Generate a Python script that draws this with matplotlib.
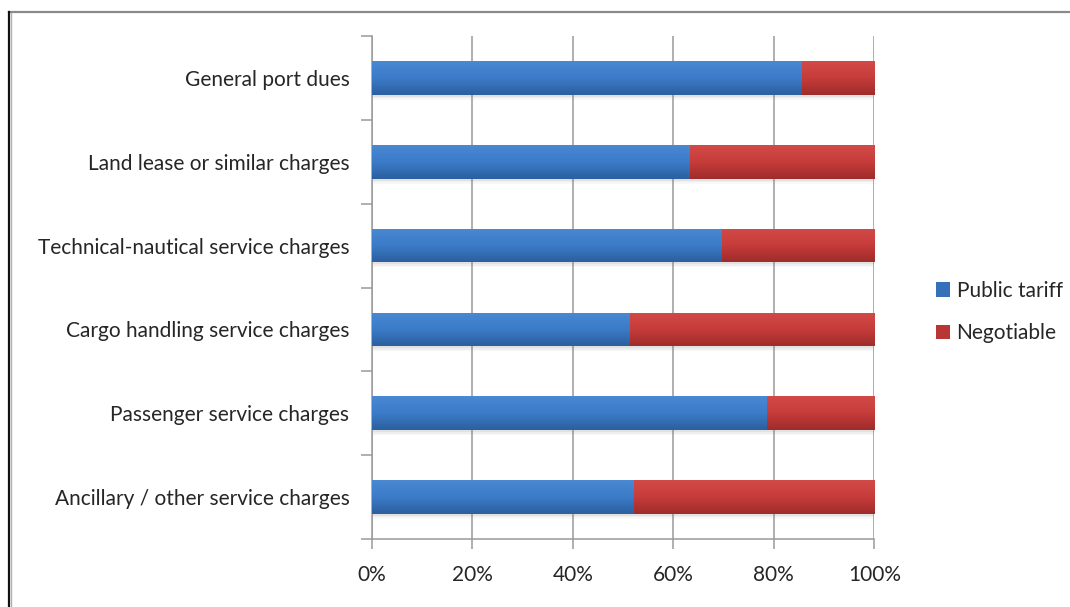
import numpy as np
import matplotlib
matplotlib.use("Agg")
import matplotlib.pyplot as plt
from matplotlib.colors import LinearSegmentedColormap
from matplotlib.lines import Line2D
from matplotlib.patches import Patch
import matplotlib.transforms as mtransforms

# Charge categories (top to bottom) and share of each pricing regime, in %
categories = [
    "General port dues",
    "Land lease or similar charges",
    "Technical-nautical service charges",
    "Cargo handling service charges",
    "Passenger service charges",
    "Ancillary / other service charges",
]
public_tariff = [85.6, 63.3, 69.6, 51.4, 78.6, 52.2]
negotiable = [100 - v for v in public_tariff]
series_names = ["Public tariff", "Negotiable"]
x_ticks = [0, 20, 40, 60, 80, 100]
x_tick_labels = [f"{t}%" for t in x_ticks]

plt.rcParams["font.family"] = ["Lato", "DejaVu Sans"]
TEXT = "#262626"
FS = 15

fig = plt.figure(figsize=(10.70, 6.07), dpi=100)
ax = fig.add_axes([0.3474, 0.112, 0.4697, 0.8287])

y = np.arange(len(categories))[::-1]
bar_h = 0.4

blue_grad = LinearSegmentedColormap.from_list("blue", ["#2c5f9f", "#3b7bc8", "#4a88d2"])
red_grad = LinearSegmentedColormap.from_list("red", ["#9e2c2b", "#c63c3a", "#d24a47"])


def shaded_bars(values, left, cmap, base):
    # soft drop shadow under each bar
    for dy, a in [(-2, 0.10), (-3.5, 0.08), (-5, 0.05)]:
        off = mtransforms.offset_copy(ax.transData, fig=fig, x=1, y=dy, units="dots")
        ax.barh(y, values, left=left, height=bar_h, color="#7f7f7f", alpha=a,
                linewidth=0, transform=off, zorder=2)
    bars = ax.barh(y, values, left=left, height=bar_h, color=base, linewidth=0, zorder=3)
    grad = np.linspace(0, 1, 64).reshape(-1, 1)
    for rect in bars.patches:
        x0, y0 = rect.get_x(), rect.get_y()
        im = ax.imshow(grad, cmap=cmap, aspect="auto", origin="lower",
                       extent=[x0, x0 + rect.get_width(), y0, y0 + rect.get_height()],
                       zorder=4, interpolation="bilinear")
        im.set_clip_path(rect)
    return bars


b1 = shaded_bars(public_tariff, 0, blue_grad, "#3670b8")
b2 = shaded_bars(negotiable, public_tariff, red_grad, "#b83634")

ax.set_xlim(0, 100)
ax.set_ylim(-0.5, len(categories) - 0.5)

# vertical gridlines
ax.set_xticks(x_ticks)
ax.set_xticklabels(x_tick_labels, fontsize=FS, color=TEXT)
ax.xaxis.grid(True, color="#9a9a9a", linewidth=1.1, zorder=0)
ax.set_axisbelow(True)

# category labels at centres, tick marks at boundaries
ax.set_yticks(y)
ax.set_yticklabels(categories, fontsize=FS, color=TEXT)
ax.set_yticks(np.arange(-0.5, len(categories), 1.0), minor=True)
ax.tick_params(axis="y", which="major", length=0, pad=16)
ax.tick_params(axis="y", which="minor", length=8, width=1.1, color="#9a9a9a", direction="out")
ax.tick_params(axis="x", which="major", length=7, width=1.1, color="#9a9a9a",
               direction="out", pad=12)

for side in ["top", "right"]:
    ax.spines[side].set_visible(False)
for side in ["left", "bottom"]:
    ax.spines[side].set_color("#9a9a9a")
    ax.spines[side].set_linewidth(1.1)

handles = [Patch(facecolor="#3670b8", edgecolor="none"),
           Patch(facecolor="#b83634", edgecolor="none")]
fig.legend(handles, series_names, loc="center left",
           bbox_to_anchor=(917 / 1070, 1 - 312 / 607), frameon=False,
           fontsize=FS, handlelength=0.7, handleheight=0.7,
           handletextpad=0.3, labelspacing=1.1, labelcolor=TEXT)

# outer chart frame
fig.add_artist(Line2D([9 / 1070, 1.0], [1 - 12 / 607] * 2, color="#8a8a8a",
                      linewidth=1.6, transform=fig.transFigure))
fig.add_artist(Line2D([9 / 1070] * 2, [0, 1 - 12 / 607], color="#111111",
                      linewidth=1.6, transform=fig.transFigure))
fig.add_artist(Line2D([10.8 / 1070] * 2, [0, 1 - 13 / 607], color="#b0b0b0",
                      linewidth=1.0, transform=fig.transFigure))

fig.savefig("out.png", dpi=100, facecolor="white")
